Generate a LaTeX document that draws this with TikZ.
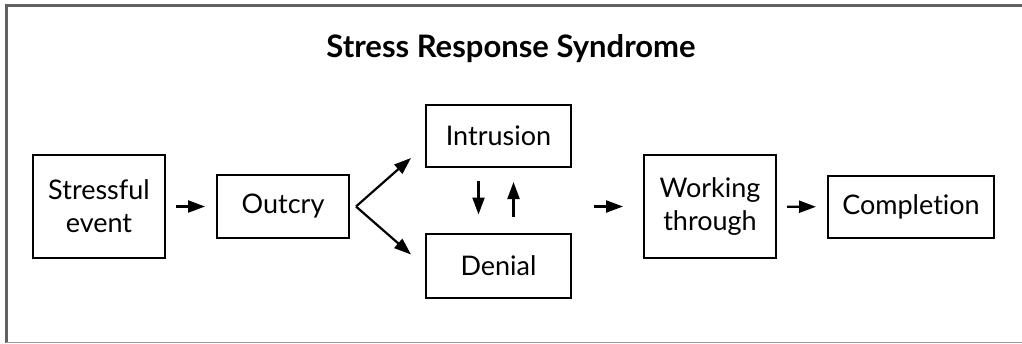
\documentclass[tikz,border=0pt]{standalone}
\usepackage{fontspec}
\setmainfont{Lato}[Ligatures={NoCommon}]
\usepackage{tikz}
\usetikzlibrary{arrows.meta}
\tikzset{
  stage/.style={draw, line width=2pt, align=center, inner sep=0pt,
    font=\fontsize{27}{33}\selectfont},
  flow/.style={line width=2.2pt, -{Triangle[length=17pt,width=12pt]}},
}

\begin{document}
\begin{tikzpicture}[x=1pt,y=-1pt]
        \useasboundingbox (0,0) rectangle (1022,343);
        % frame
        \draw[line width=3pt, black!62] (6,343) -- (6,5.5) -- (1022,5.5);
        \draw[line width=1pt, black!40] (6,342.5) -- (1022,342.5);
        \node[anchor=base, font=\fontsize{31}{37}\selectfont\bfseries] (title) at (511,57) {Stress Response Syndrome};
        % stages
        \node[stage, minimum width=132pt, minimum height=103pt] (stress) at (99,206.5) {Stressful\\event};
        \node[stage, minimum width=132pt, minimum height=63pt] (outcry) at (283,206.5) {Outcry};
        \node[stage, minimum width=145pt, minimum height=62pt] (intrusion) at (498.5,136) {Intrusion};
        \node[stage, minimum width=145pt, minimum height=64pt] (denial) at (498.5,265.5) {Denial};
        \node[stage, minimum width=132pt, minimum height=103pt] (working) at (710,206.5) {Working\\through};
        \node[stage, minimum width=166pt, minimum height=62pt] (completion) at (911,207) {Completion};
        % connectors
        \coordinate (fork) at ([xshift=6pt]outcry.east);
        \coordinate (uptip) at ([shift={(-14,-10)}]intrusion.south west);
        \coordinate (downtip) at ([shift={(-14,22)}]denial.north west);
        \coordinate (merge) at ([xshift=-49pt]working.west);
        \draw[flow, shorten <=10pt, shorten >=11pt] (stress) -- (outcry);
        \draw[flow] (fork) -- (uptip);
        \draw[flow] (fork) -- (downtip);
        \draw[flow] ([xshift=-20pt,yshift=-13pt]intrusion.south) -- ([xshift=-20pt,yshift=18pt]denial.north);
        \draw[flow] ([xshift=15pt,yshift=16pt]denial.north) -- ([xshift=15pt,yshift=-14pt]intrusion.south);
        \draw[flow, shorten >=20pt] (merge) -- (working.west);
        \draw[flow, shorten <=10pt, shorten >=11pt] (working) -- (completion);
\end{tikzpicture}
\end{document}
